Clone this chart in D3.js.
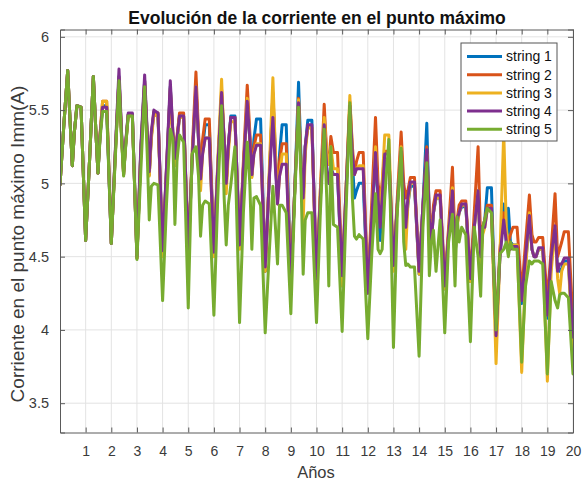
<!DOCTYPE html>
<html>
<head>
<meta charset="utf-8">
<script src="https://cdn.jsdelivr.net/npm/d3@7/dist/d3.min.js"></script>
<style>
  html, body { margin: 0; padding: 0; background: #ffffff; }
  svg text { font-family: "Liberation Sans", Arial, Helvetica, sans-serif; }
</style>
</head>
<body>
<svg id="chart" width="582" height="482"></svg>
<script>
// ---- data ----
const titleText = "Evolución de la corriente en el punto máximo";
const xLabelText = "Años";
const yLabelText = "Corriente en el punto máximo Imm(A)";
const seriesNames = ["string 1", "string 2", "string 3", "string 4", "string 5"];
const xTicks = [1,2,3,4,5,6,7,8,9,10,11,12,13,14,15,16,17,18,19,20];
const yTicks = [3.5, 4, 4.5, 5, 5.5, 6];
const years = [0,1,2,3,4,5,6,7,8,9,10,11,12,13,14,15,16,17,18,19];
const yearOffsets = [0, 0.15, 0.30, 0.40, 0.48, 0.56, 0.66, 0.82];
const lastYear = 20;

const string1 = [
  4.99,5.40,5.77,5.40,5.12,5.35,5.53,5.52,
  4.61,5.15,5.73,5.35,5.07,5.32,5.53,5.53,
  4.59,5.18,5.73,5.33,5.06,5.26,5.47,5.47,
  4.49,5.22,5.70,5.32,5.06,5.32,5.48,5.47,
  4.52,5.08,5.66,5.32,5.14,5.29,5.46,5.46,
  4.51,5.15,5.64,5.30,5.02,5.25,5.40,5.40,
  4.51,5.12,5.60,5.28,4.98,5.25,5.46,5.46,
  4.56,5.10,5.55,5.30,5.05,5.30,5.44,5.44,
  4.40,5.00,5.60,5.15,4.88,5.20,5.40,5.40,
  4.31,4.95,5.69,5.15,4.85,5.25,5.43,5.43,
  4.34,4.90,5.40,5.10,5.00,5.10,5.06,5.06,
  4.30,4.90,5.50,5.15,4.90,4.95,5.00,5.00,
  4.25,4.75,5.20,4.85,4.61,4.90,5.15,5.15,
  4.42,4.85,5.20,4.85,4.70,4.85,4.98,4.98,
  4.38,4.85,5.41,4.75,4.60,4.80,4.90,4.90,
  4.28,4.65,4.95,4.50,4.72,4.80,4.84,4.84,
  4.33,4.70,4.95,4.50,4.70,4.75,4.97,4.97,
  3.95,4.50,4.86,4.60,4.83,4.60,4.58,4.58,
  4.18,4.45,4.75,4.55,4.50,4.50,4.55,4.55,
  4.08,4.45,4.70,4.40,4.40,4.42,4.47,4.47,
  3.90];
const string2 = [
  4.99,5.40,5.77,5.40,5.12,5.35,5.53,5.52,
  4.61,5.15,5.73,5.35,5.07,5.33,5.56,5.56,
  4.59,5.18,5.72,5.33,5.06,5.27,5.47,5.47,
  4.49,5.22,5.70,5.33,5.06,5.33,5.49,5.48,
  4.52,5.10,5.65,5.35,5.15,5.32,5.48,5.48,
  4.52,5.20,5.76,5.35,5.05,5.30,5.44,5.44,
  4.52,5.10,5.64,5.30,5.00,5.25,5.45,5.45,
  4.57,5.15,5.67,5.35,5.06,5.25,5.33,5.33,
  4.40,5.00,5.62,5.20,4.90,5.15,5.27,5.27,
  4.32,4.95,5.58,5.10,4.90,5.25,5.38,5.38,
  4.35,4.95,5.54,5.20,5.13,5.32,5.21,5.21,
  4.37,4.95,5.56,5.25,5.06,5.15,5.21,5.21,
  4.27,4.85,5.45,5.00,4.90,5.00,5.22,5.22,
  4.42,4.90,5.35,5.00,4.90,4.95,5.04,5.04,
  4.40,4.85,5.25,4.80,4.65,4.85,4.95,4.95,
  4.32,4.70,5.11,4.60,4.75,4.85,4.88,4.88,
  4.36,4.80,5.25,4.60,4.70,4.75,4.85,4.85,
  4.00,4.55,4.80,4.65,4.60,4.65,4.70,4.70,
  4.25,4.60,4.92,4.65,4.60,4.60,4.63,4.63,
  4.20,4.55,4.93,4.50,4.55,4.60,4.67,4.67,
  4.05];
const string3 = [
  4.99,5.40,5.77,5.40,5.12,5.35,5.53,5.52,
  4.61,5.15,5.73,5.35,5.07,5.33,5.56,5.56,
  4.59,5.18,5.72,5.32,5.06,5.26,5.46,5.46,
  4.49,5.20,5.68,5.30,5.05,5.30,5.47,5.46,
  4.50,5.05,5.62,5.30,5.12,5.28,5.45,5.45,
  4.50,5.15,5.66,5.30,4.95,5.20,5.31,5.31,
  4.50,5.15,5.71,5.25,4.93,5.20,5.42,5.42,
  4.55,5.10,5.58,5.30,5.04,5.20,5.27,5.27,
  4.40,5.05,5.72,5.20,4.86,5.05,5.20,5.20,
  4.30,4.95,5.57,5.10,4.73,5.20,5.38,5.38,
  4.33,4.95,5.45,5.20,5.13,5.25,5.10,5.10,
  4.30,4.95,5.60,5.20,5.06,5.10,5.12,5.12,
  4.25,4.75,5.25,4.90,4.75,5.00,5.33,5.33,
  4.40,4.85,5.25,4.80,4.55,4.85,5.00,5.00,
  4.38,4.80,5.20,4.70,4.60,4.80,4.90,4.90,
  4.28,4.65,4.97,4.50,4.70,4.80,4.85,4.85,
  4.33,4.70,4.95,4.45,4.65,4.70,4.82,4.82,
  3.77,4.50,5.35,4.70,4.55,4.55,4.58,4.58,
  3.71,4.40,4.80,4.55,4.50,4.50,4.55,4.55,
  3.65,4.40,4.70,4.35,4.25,4.40,4.45,4.45,
  3.85];
const string4 = [
  4.99,5.40,5.77,5.40,5.12,5.35,5.53,5.52,
  4.61,5.15,5.73,5.35,5.07,5.32,5.52,5.52,
  4.59,5.20,5.78,5.35,5.08,5.28,5.48,5.48,
  4.50,5.25,5.74,5.35,5.08,5.35,5.50,5.48,
  4.54,5.10,5.70,5.35,5.17,5.30,5.46,5.46,
  4.53,5.15,5.66,5.30,5.03,5.20,5.31,5.31,
  4.53,5.10,5.62,5.30,5.00,5.25,5.45,5.45,
  4.58,5.10,5.56,5.30,5.06,5.20,5.26,5.26,
  4.43,5.00,5.45,5.10,4.86,5.05,5.13,5.13,
  4.33,4.95,5.55,5.10,4.90,5.25,5.40,5.40,
  4.35,4.90,5.40,5.10,5.00,5.10,5.06,5.06,
  4.37,4.95,5.53,5.20,5.06,5.10,5.10,5.10,
  4.25,4.75,5.21,4.90,4.70,4.90,5.20,5.20,
  4.44,4.85,5.22,4.90,4.70,4.90,5.01,5.01,
  4.40,4.85,5.23,4.75,4.60,4.80,4.92,4.92,
  4.30,4.65,4.95,4.50,4.75,4.80,4.86,4.86,
  4.35,4.70,4.95,4.50,4.70,4.70,4.83,4.83,
  3.96,4.50,4.75,4.60,4.55,4.55,4.57,4.57,
  4.20,4.50,4.78,4.55,4.50,4.50,4.56,4.56,
  4.10,4.50,4.71,4.40,4.45,4.45,4.49,4.49,
  3.95];
const string5 = [
  4.99,5.40,5.77,5.40,5.12,5.35,5.53,5.52,
  4.61,5.15,5.73,5.35,5.07,5.30,5.49,5.49,
  4.59,5.15,5.70,5.30,5.05,5.25,5.46,5.46,
  4.48,5.08,5.66,5.20,4.75,4.98,5.00,4.99,
  4.20,4.85,5.37,5.30,4.72,5.15,5.33,5.28,
  4.15,5.20,5.25,5.05,4.64,4.85,4.88,4.86,
  4.10,4.90,5.53,4.90,4.58,4.85,4.99,5.25,
  4.05,4.80,5.28,5.00,4.55,4.90,4.91,4.85,
  3.98,4.50,4.98,4.70,4.45,4.85,4.85,4.80,
  4.11,4.90,5.52,5.00,4.38,4.75,4.80,4.80,
  4.05,4.80,5.37,4.90,4.30,5.25,4.72,4.70,
  3.99,4.80,5.55,4.90,4.64,4.62,4.65,4.62,
  3.94,4.50,4.93,4.55,4.52,4.55,4.90,5.30,
  3.88,4.80,5.24,4.60,4.44,4.45,4.43,4.43,
  3.82,4.70,5.14,4.37,4.60,4.68,4.40,4.75,
  3.98,4.60,4.79,4.30,4.77,4.60,4.70,4.65,
  3.92,4.70,4.50,4.23,4.70,4.75,4.83,4.80,
  4.00,4.52,4.55,4.60,4.50,4.60,4.55,4.55,
  3.78,4.30,4.47,4.45,4.47,4.47,4.47,4.45,
  3.70,4.33,4.20,4.15,4.24,4.25,4.25,4.22,
  3.70];
const seriesValues = [string1, string2, string3, string4, string5];
const seriesColors = ["#0072BD", "#D95319", "#EDB120", "#7E2F8E", "#77AC30"];

// time positions (years) shared by all series
const timePoints = [];
years.forEach(y => yearOffsets.forEach(o => timePoints.push(y + o)));
timePoints.push(lastYear);

// ---- layout ----
const svg = d3.select("#chart");
const L = 60, R = 573, T = 29.5, B = 432.5;
const x = d3.scaleLinear().domain([0, 20]).range([L, R]);
const y = d3.scaleLinear().domain([3.3, 6.05]).range([B, T]);

svg.append("rect").attr("x", 0).attr("y", 0).attr("width", 582).attr("height", 482).attr("fill", "#ffffff");
svg.append("rect").attr("x", L).attr("y", T).attr("width", R - L).attr("height", B - T).attr("fill", "#ffffff");

// grid
const grid = svg.append("g").attr("class", "grid");
grid.selectAll("line.gx").data(xTicks).enter().append("line")
  .attr("x1", d => x(d)).attr("x2", d => x(d)).attr("y1", T).attr("y2", B)
  .attr("stroke", "#e3e3e3").attr("stroke-width", 1);
grid.selectAll("line.gy").data(yTicks).enter().append("line")
  .attr("x1", L).attr("x2", R).attr("y1", d => y(d)).attr("y2", d => y(d))
  .attr("stroke", "#e3e3e3").attr("stroke-width", 1);

// lines
svg.append("defs").append("clipPath").attr("id", "clip")
  .append("rect").attr("x", L).attr("y", T).attr("width", R - L).attr("height", B - T);
const line = d3.line().x((d, i) => x(timePoints[i])).y(d => y(d));
const lg = svg.append("g").attr("clip-path", "url(#clip)");
seriesValues.forEach((vals, k) => {
  lg.append("path").datum(vals)
    .attr("d", line)
    .attr("fill", "none")
    .attr("stroke", seriesColors[k])
    .attr("stroke-width", 3)
    .attr("stroke-linejoin", "round")
    .attr("stroke-linecap", "round");
});

// axes
const axisColor = "#5a5a5a";
const fmt = d3.format("~g");
const gB = svg.append("g").attr("transform", `translate(0,${B})`)
  .call(d3.axisBottom(x).tickValues(xTicks).tickSize(-5).tickPadding(14).tickFormat(fmt));
const gT = svg.append("g").attr("transform", `translate(0,${T})`)
  .call(d3.axisTop(x).tickValues(xTicks).tickSize(-5).tickFormat(""));
const gL = svg.append("g").attr("transform", `translate(${L},0)`)
  .call(d3.axisLeft(y).tickValues(yTicks).tickSize(-5).tickPadding(11).tickFormat(fmt));
const gR = svg.append("g").attr("transform", `translate(${R},0)`)
  .call(d3.axisRight(y).tickValues(yTicks).tickSize(-5).tickFormat(""));
[gB, gT, gL, gR].forEach(g => {
  g.select(".domain").attr("stroke", axisColor).attr("stroke-width", 1);
  g.selectAll(".tick line").attr("stroke", axisColor).attr("stroke-width", 1);
  g.selectAll(".tick text").attr("fill", "#3a3a3a").style("font-size", "14.5px");
});
gB.selectAll(".tick text").attr("dy", "0.71em").style("font-size", "14px");

// title and labels
svg.append("text").attr("x", 317).attr("y", 24)
  .attr("text-anchor", "middle").style("font-size", "17.5px").style("font-weight", "bold")
  .attr("fill", "#111").text(titleText);
svg.append("text").attr("x", 316).attr("y", 478)
  .attr("text-anchor", "middle").style("font-size", "16.5px")
  .attr("fill", "#3a3a3a").text(xLabelText);
svg.append("text").attr("transform", `translate(24,244) rotate(-90)`)
  .attr("text-anchor", "middle").style("font-size", "19px")
  .attr("fill", "#3a3a3a").text(yLabelText);

// legend
const lgX = 461, lgY = 43, lgW = 96, lgH = 98;
const leg = svg.append("g");
leg.append("rect").attr("x", lgX).attr("y", lgY).attr("width", lgW).attr("height", lgH)
  .attr("fill", "#ffffff").attr("stroke", "#555").attr("stroke-width", 1);
seriesNames.forEach((name, k) => {
  const cy = lgY + 13.5 + k * 18.2;
  leg.append("line").attr("x1", lgX + 6).attr("x2", lgX + 41).attr("y1", cy).attr("y2", cy)
    .attr("stroke", seriesColors[k]).attr("stroke-width", 3);
  leg.append("text").attr("x", lgX + 45).attr("y", cy).attr("dy", "0.35em")
    .style("font-size", "14px").attr("fill", "#111").text(name);
});
</script>
</body>
</html>
